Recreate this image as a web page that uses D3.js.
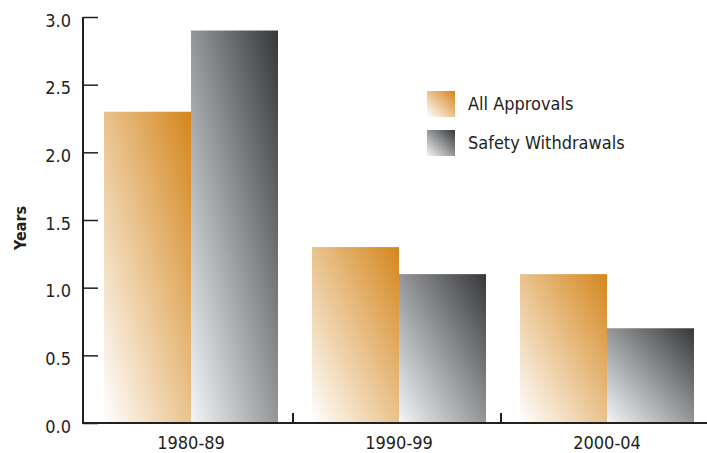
<!DOCTYPE html>
<html><head><meta charset="utf-8">
<script src="https://cdn.jsdelivr.net/npm/d3@7"></script>
<style>
body{margin:0;background:#fff;}
text{font-family:"Liberation Sans Narrow","DejaVu Sans Condensed","Arial Narrow",sans-serif;fill:#231f20;}
</style></head><body>
<svg id="c" width="707" height="453"></svg>
<script>
const categories = ["1980-89", "1990-99", "2000-04"];
const seriesNames = ["All Approvals", "Safety Withdrawals"];
const allApprovals = [2.3, 1.3, 1.1];
const safetyWithdrawals = [2.9, 1.1, 0.7];
const yTicks = [0, 0.5, 1.0, 1.5, 2.0, 2.5, 3.0];

const svg = d3.select("#c");
const colors = ["#d4861c", "#36373a"];
const startColors = ["#ffffff", "#f4f5f6"];

const defs = svg.append("defs");
colors.forEach((c, i) => {
  const g = defs.append("linearGradient").attr("id", "g" + i)
    .attr("x1", 0).attr("y1", 1).attr("x2", 1).attr("y2", 0);
  g.append("stop").attr("offset", "0%").attr("stop-color", startColors[i]);
  g.append("stop").attr("offset", "100%").attr("stop-color", c);
});

const x0 = d3.scaleBand().domain(categories).range([87, 711]).paddingInner(0).paddingOuter(0);
const x1 = d3.scaleBand().domain([0, 1]).range([17, x0.bandwidth() - 17]);
const y = d3.scaleLinear().domain([0, 3]).range([423, 17]);

const data = categories.map((c, i) => ({c, v: [allApprovals[i], safetyWithdrawals[i]]}));

const grp = svg.append("g").selectAll("g").data(data).join("g")
  .attr("transform", d => `translate(${x0(d.c)},0)`);
grp.selectAll("rect").data(d => d.v).join("rect")
  .attr("x", (d, i) => x1(i))
  .attr("width", x1.bandwidth())
  .attr("y", d => y(d))
  .attr("height", d => y(0) - y(d))
  .attr("fill", (d, i) => `url(#g${i})`);

// y axis
const yAxis = svg.append("g").attr("transform", "translate(83,0)")
  .call(d3.axisRight(y).tickValues(yTicks).tickFormat(d3.format(".1f")).tickSize(15));
yAxis.select(".domain").attr("stroke", "#231f20").attr("stroke-width", 2).attr("d", `M0,${y(3)}V${y(0)}`);
yAxis.selectAll(".tick line").attr("stroke", "#231f20").attr("stroke-width", 1.5);
yAxis.selectAll(".tick text").attr("x", -12).attr("text-anchor", "end")
  .attr("font-size", 18).attr("dy", "0.5em");

// x axis
const xAxis = svg.append("g").attr("transform", `translate(0,${y(0)})`)
  .call(d3.axisBottom(x0).tickSize(0).tickPadding(10));
xAxis.select(".domain").attr("stroke", "#231f20").attr("stroke-width", 2).attr("d", `M82,0H707`);
xAxis.selectAll(".tick text").attr("font-size", 18).attr("dy", "0.9em");
svg.append("g").selectAll("line").data(categories.slice(1)).join("line")
  .attr("x1", d => x0(d) - 2).attr("x2", d => x0(d) - 2)
  .attr("y1", y(0) - 10).attr("y2", y(0))
  .attr("stroke", "#231f20").attr("stroke-width", 2);

// y title
svg.append("text").attr("transform", "translate(26,228) rotate(-90)")
  .attr("text-anchor", "middle").attr("font-size", 16).attr("font-weight", "bold")
  .text("Years");

// legend
const leg = svg.append("g").selectAll("g").data(seriesNames).join("g")
  .attr("transform", (d, i) => `translate(427,${91 + i * 39})`);
leg.append("rect").attr("width", 28).attr("height", 26).attr("fill", (d, i) => `url(#g${i})`);
leg.append("text").attr("x", 41).attr("y", 19).attr("font-size", 18).text(d => d);
</script>
</body></html>
